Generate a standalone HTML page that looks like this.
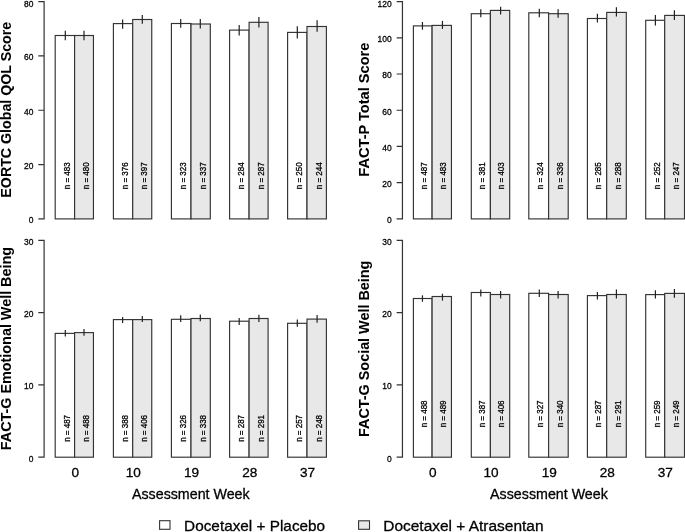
<!DOCTYPE html>
<html><head><meta charset="utf-8"><style>
html,body{margin:0;padding:0;background:#fff;}
body{width:685px;height:532px;overflow:hidden;}
#w{width:685px;height:532px;will-change:transform;}
svg{display:block;font-family:"Liberation Sans",sans-serif;}
text{fill:#000;stroke:#000;stroke-width:0.3px;}
text[font-weight=bold]{stroke-width:0.05px;}
</style></head><body>
<div id="w"><svg width="685" height="532" viewBox="0 0 685 532">
<rect x="55.2" y="35.5" width="19.4" height="183.4" fill="#fff" stroke="#333" stroke-width="1.15"/>
<rect x="74.6" y="35.5" width="18.85" height="183.4" fill="#e8e8e8" stroke="#333" stroke-width="1.15"/>
<line x1="65.3" y1="30.7" x2="65.3" y2="40.3" stroke="#222" stroke-width="1.2"/>
<line x1="84" y1="30.7" x2="84" y2="40.3" stroke="#222" stroke-width="1.2"/>
<text transform="translate(69.8 189.2) rotate(-90) scale(0.89 1)" font-size="9">n = 483</text>
<text transform="translate(88.93 189.2) rotate(-90) scale(0.89 1)" font-size="9">n = 480</text>
<rect x="113.4" y="23.6" width="19.3" height="195.3" fill="#fff" stroke="#333" stroke-width="1.15"/>
<rect x="132.7" y="19.5" width="19.05" height="199.4" fill="#e8e8e8" stroke="#333" stroke-width="1.15"/>
<line x1="122.6" y1="19.5" x2="122.6" y2="28.8" stroke="#222" stroke-width="1.2"/>
<line x1="142.3" y1="15" x2="142.3" y2="23.8" stroke="#222" stroke-width="1.2"/>
<text transform="translate(127.95 189.2) rotate(-90) scale(0.89 1)" font-size="9">n = 376</text>
<text transform="translate(147.12 189.2) rotate(-90) scale(0.89 1)" font-size="9">n = 397</text>
<rect x="171.4" y="23.5" width="19.6" height="195.4" fill="#fff" stroke="#333" stroke-width="1.15"/>
<rect x="191" y="24" width="19.3" height="194.9" fill="#e8e8e8" stroke="#333" stroke-width="1.15"/>
<line x1="180.7" y1="19.1" x2="180.7" y2="27.8" stroke="#222" stroke-width="1.2"/>
<line x1="200.3" y1="19.1" x2="200.3" y2="28.6" stroke="#222" stroke-width="1.2"/>
<text transform="translate(186.1 189.2) rotate(-90) scale(0.89 1)" font-size="9">n = 323</text>
<text transform="translate(205.55 189.2) rotate(-90) scale(0.89 1)" font-size="9">n = 337</text>
<rect x="229.6" y="30.1" width="19.5" height="188.8" fill="#fff" stroke="#333" stroke-width="1.15"/>
<rect x="249.1" y="22.3" width="19" height="196.6" fill="#e8e8e8" stroke="#333" stroke-width="1.15"/>
<line x1="239.2" y1="25.1" x2="239.2" y2="35.5" stroke="#222" stroke-width="1.2"/>
<line x1="258.9" y1="17" x2="258.9" y2="27.5" stroke="#222" stroke-width="1.2"/>
<text transform="translate(244.25 189.2) rotate(-90) scale(0.89 1)" font-size="9">n = 284</text>
<text transform="translate(263.5 189.2) rotate(-90) scale(0.89 1)" font-size="9">n = 287</text>
<rect x="287.6" y="32.4" width="19.4" height="186.5" fill="#fff" stroke="#333" stroke-width="1.15"/>
<rect x="307" y="26.5" width="19.4" height="192.4" fill="#e8e8e8" stroke="#333" stroke-width="1.15"/>
<line x1="297.3" y1="26.3" x2="297.3" y2="38.4" stroke="#222" stroke-width="1.2"/>
<line x1="317.1" y1="20.3" x2="317.1" y2="31.8" stroke="#222" stroke-width="1.2"/>
<text transform="translate(302.2 189.2) rotate(-90) scale(0.89 1)" font-size="9">n = 250</text>
<text transform="translate(321.6 189.2) rotate(-90) scale(0.89 1)" font-size="9">n = 244</text>
<text transform="translate(33.4 223.3) scale(0.89 1)" font-size="9.5" text-anchor="end">0</text>
<text transform="translate(33.4 169) scale(0.89 1)" font-size="9.5" text-anchor="end">20</text>
<text transform="translate(33.4 114.65) scale(0.89 1)" font-size="9.5" text-anchor="end">40</text>
<text transform="translate(33.4 60.3) scale(0.89 1)" font-size="9.5" text-anchor="end">60</text>
<text transform="translate(33.4 6.6) scale(0.89 1)" font-size="9.5" text-anchor="end">80</text>
<path d="M44.1 1.6V218.9M38.9 218.9H44.1M38.9 164.6H44.1M38.9 110.25H44.1M38.9 55.9H44.1M38.9 1.6H44.1" fill="none" stroke="#333" stroke-width="1.2" stroke-linecap="square"/>
<text transform="translate(10.7 109.7) rotate(-90) scale(0.995 1)" font-size="14.3" text-anchor="middle" font-weight="bold">EORTC Global QOL Score</text>
<rect x="413.4" y="25.9" width="18.7" height="193" fill="#fff" stroke="#333" stroke-width="1.15"/>
<rect x="432.1" y="25.4" width="19.35" height="193.5" fill="#e8e8e8" stroke="#333" stroke-width="1.15"/>
<line x1="422.45" y1="22" x2="422.45" y2="29.7" stroke="#222" stroke-width="1.2"/>
<line x1="442.45" y1="20.9" x2="442.45" y2="28.9" stroke="#222" stroke-width="1.2"/>
<text transform="translate(427.1 189.15) rotate(-90) scale(0.89 1)" font-size="9">n = 487</text>
<text transform="translate(446.12 189.15) rotate(-90) scale(0.89 1)" font-size="9">n = 483</text>
<rect x="471.3" y="13.7" width="19.1" height="205.2" fill="#fff" stroke="#333" stroke-width="1.15"/>
<rect x="490.4" y="10.4" width="19.3" height="208.5" fill="#e8e8e8" stroke="#333" stroke-width="1.15"/>
<line x1="480.8" y1="9.3" x2="480.8" y2="17.3" stroke="#222" stroke-width="1.2"/>
<line x1="500.6" y1="6.7" x2="500.6" y2="14.5" stroke="#222" stroke-width="1.2"/>
<text transform="translate(485.2 189.15) rotate(-90) scale(0.89 1)" font-size="9">n = 381</text>
<text transform="translate(504.4 189.15) rotate(-90) scale(0.89 1)" font-size="9">n = 403</text>
<rect x="528.8" y="12.8" width="19.8" height="206.1" fill="#fff" stroke="#333" stroke-width="1.15"/>
<rect x="548.6" y="13.7" width="19.6" height="205.2" fill="#e8e8e8" stroke="#333" stroke-width="1.15"/>
<line x1="539.3" y1="8.8" x2="539.3" y2="17.3" stroke="#222" stroke-width="1.2"/>
<line x1="558.1" y1="9.3" x2="558.1" y2="17.7" stroke="#222" stroke-width="1.2"/>
<text transform="translate(543.05 189.15) rotate(-90) scale(0.89 1)" font-size="9">n = 324</text>
<text transform="translate(562.75 189.15) rotate(-90) scale(0.89 1)" font-size="9">n = 336</text>
<rect x="587.4" y="18.5" width="19.3" height="200.4" fill="#fff" stroke="#333" stroke-width="1.15"/>
<rect x="606.7" y="12.4" width="19.6" height="206.5" fill="#e8e8e8" stroke="#333" stroke-width="1.15"/>
<line x1="597.4" y1="13.7" x2="597.4" y2="22.5" stroke="#222" stroke-width="1.2"/>
<line x1="616.4" y1="7.2" x2="616.4" y2="16.5" stroke="#222" stroke-width="1.2"/>
<text transform="translate(601.4 189.15) rotate(-90) scale(0.89 1)" font-size="9">n = 285</text>
<text transform="translate(620.85 189.15) rotate(-90) scale(0.89 1)" font-size="9">n = 288</text>
<rect x="645.7" y="20.3" width="19" height="198.6" fill="#fff" stroke="#333" stroke-width="1.15"/>
<rect x="664.7" y="15.4" width="19.8" height="203.5" fill="#e8e8e8" stroke="#333" stroke-width="1.15"/>
<line x1="655.4" y1="15.1" x2="655.4" y2="25.4" stroke="#222" stroke-width="1.2"/>
<line x1="674.4" y1="10.3" x2="674.4" y2="19.9" stroke="#222" stroke-width="1.2"/>
<text transform="translate(659.55 189.15) rotate(-90) scale(0.89 1)" font-size="9">n = 252</text>
<text transform="translate(678.95 189.15) rotate(-90) scale(0.89 1)" font-size="9">n = 247</text>
<text transform="translate(391.7 223.3) scale(0.89 1)" font-size="9.5" text-anchor="end">0</text>
<text transform="translate(391.7 187.1) scale(0.89 1)" font-size="9.5" text-anchor="end">20</text>
<text transform="translate(391.7 150.85) scale(0.89 1)" font-size="9.5" text-anchor="end">40</text>
<text transform="translate(391.7 114.65) scale(0.89 1)" font-size="9.5" text-anchor="end">60</text>
<text transform="translate(391.7 78.4) scale(0.89 1)" font-size="9.5" text-anchor="end">80</text>
<text transform="translate(391.7 42.2) scale(0.89 1)" font-size="9.5" text-anchor="end">100</text>
<text transform="translate(391.7 6.6) scale(0.89 1)" font-size="9.5" text-anchor="end">120</text>
<path d="M402.45 1.6V218.9M397.25 218.9H402.45M397.25 182.7H402.45M397.25 146.45H402.45M397.25 110.25H402.45M397.25 74H402.45M397.25 37.8H402.45M397.25 1.6H402.45" fill="none" stroke="#333" stroke-width="1.2" stroke-linecap="square"/>
<text transform="translate(368.7 109.65) rotate(-90) scale(1.021 1)" font-size="14.3" text-anchor="middle" font-weight="bold">FACT-P Total Score</text>
<rect x="55.2" y="333.4" width="19.4" height="123.8" fill="#fff" stroke="#333" stroke-width="1.15"/>
<rect x="74.6" y="332.6" width="18.85" height="124.6" fill="#e8e8e8" stroke="#333" stroke-width="1.15"/>
<line x1="65.3" y1="330" x2="65.3" y2="336.6" stroke="#222" stroke-width="1.2"/>
<line x1="84" y1="328.9" x2="84" y2="335.7" stroke="#222" stroke-width="1.2"/>
<text transform="translate(70 441.85) rotate(-90) scale(0.89 1)" font-size="9">n = 487</text>
<text transform="translate(89.12 441.85) rotate(-90) scale(0.89 1)" font-size="9">n = 488</text>
<rect x="113.4" y="319.6" width="19.3" height="137.6" fill="#fff" stroke="#333" stroke-width="1.15"/>
<rect x="132.7" y="319.6" width="19.05" height="137.6" fill="#e8e8e8" stroke="#333" stroke-width="1.15"/>
<line x1="122.6" y1="316.9" x2="122.6" y2="323" stroke="#222" stroke-width="1.2"/>
<line x1="142.3" y1="316.1" x2="142.3" y2="322" stroke="#222" stroke-width="1.2"/>
<text transform="translate(128.15 441.85) rotate(-90) scale(0.89 1)" font-size="9">n = 388</text>
<text transform="translate(147.32 441.85) rotate(-90) scale(0.89 1)" font-size="9">n = 406</text>
<rect x="171.4" y="319.3" width="19.6" height="137.9" fill="#fff" stroke="#333" stroke-width="1.15"/>
<rect x="191" y="318.5" width="19.3" height="138.7" fill="#e8e8e8" stroke="#333" stroke-width="1.15"/>
<line x1="180.7" y1="315.3" x2="180.7" y2="322" stroke="#222" stroke-width="1.2"/>
<line x1="200.3" y1="314.5" x2="200.3" y2="321.2" stroke="#222" stroke-width="1.2"/>
<text transform="translate(186.3 441.85) rotate(-90) scale(0.89 1)" font-size="9">n = 326</text>
<text transform="translate(205.75 441.85) rotate(-90) scale(0.89 1)" font-size="9">n = 338</text>
<rect x="229.6" y="321.2" width="19.5" height="136" fill="#fff" stroke="#333" stroke-width="1.15"/>
<rect x="249.1" y="318.5" width="19" height="138.7" fill="#e8e8e8" stroke="#333" stroke-width="1.15"/>
<line x1="239.2" y1="318" x2="239.2" y2="324.9" stroke="#222" stroke-width="1.2"/>
<line x1="258.9" y1="314.8" x2="258.9" y2="322" stroke="#222" stroke-width="1.2"/>
<text transform="translate(244.45 441.85) rotate(-90) scale(0.89 1)" font-size="9">n = 287</text>
<text transform="translate(263.7 441.85) rotate(-90) scale(0.89 1)" font-size="9">n = 291</text>
<rect x="287.6" y="323.3" width="19.4" height="133.9" fill="#fff" stroke="#333" stroke-width="1.15"/>
<rect x="307" y="319.1" width="19.4" height="138.1" fill="#e8e8e8" stroke="#333" stroke-width="1.15"/>
<line x1="297.3" y1="319.4" x2="297.3" y2="326.8" stroke="#222" stroke-width="1.2"/>
<line x1="317.1" y1="315.1" x2="317.1" y2="322.7" stroke="#222" stroke-width="1.2"/>
<text transform="translate(302.4 441.85) rotate(-90) scale(0.89 1)" font-size="9">n = 257</text>
<text transform="translate(321.8 441.85) rotate(-90) scale(0.89 1)" font-size="9">n = 248</text>
<text transform="translate(33.4 461.6) scale(0.89 1)" font-size="9.5" text-anchor="end">0</text>
<text transform="translate(33.4 389.35) scale(0.89 1)" font-size="9.5" text-anchor="end">10</text>
<text transform="translate(33.4 317.1) scale(0.89 1)" font-size="9.5" text-anchor="end">20</text>
<text transform="translate(33.4 244.85) scale(0.89 1)" font-size="9.5" text-anchor="end">30</text>
<path d="M44.1 240.45V457.2M38.9 457.2H44.1M38.9 384.95H44.1M38.9 312.7H44.1M38.9 240.45H44.1" fill="none" stroke="#333" stroke-width="1.2" stroke-linecap="square"/>
<text transform="translate(10.7 348.6) rotate(-90) scale(1.005 1)" font-size="14.3" text-anchor="middle" font-weight="bold">FACT-G Emotional Well Being</text>
<text transform="translate(75.2 477.2)" font-size="13.6" text-anchor="middle">0</text>
<text transform="translate(133.3 477.2)" font-size="13.6" text-anchor="middle">10</text>
<text transform="translate(191.6 477.2)" font-size="13.6" text-anchor="middle">19</text>
<text transform="translate(249.7 477.2)" font-size="13.6" text-anchor="middle">28</text>
<text transform="translate(307.6 477.2)" font-size="13.6" text-anchor="middle">37</text>
<text transform="translate(190.8 499.15) scale(0.99 1)" font-size="14.4" text-anchor="middle">Assessment Week</text>
<rect x="413.4" y="298.5" width="18.7" height="158.7" fill="#fff" stroke="#333" stroke-width="1.15"/>
<rect x="432.1" y="296.5" width="19.35" height="160.7" fill="#e8e8e8" stroke="#333" stroke-width="1.15"/>
<line x1="422.45" y1="295.3" x2="422.45" y2="301.7" stroke="#222" stroke-width="1.2"/>
<line x1="442.45" y1="293.7" x2="442.45" y2="300.6" stroke="#222" stroke-width="1.2"/>
<text transform="translate(427.1 427.35) rotate(-90) scale(0.89 1)" font-size="9">n = 488</text>
<text transform="translate(446.12 427.35) rotate(-90) scale(0.89 1)" font-size="9">n = 489</text>
<rect x="471.3" y="292.5" width="19.1" height="164.7" fill="#fff" stroke="#333" stroke-width="1.15"/>
<rect x="490.4" y="294.5" width="19.3" height="162.7" fill="#e8e8e8" stroke="#333" stroke-width="1.15"/>
<line x1="480.8" y1="289.6" x2="480.8" y2="296.4" stroke="#222" stroke-width="1.2"/>
<line x1="500.6" y1="290.9" x2="500.6" y2="298.5" stroke="#222" stroke-width="1.2"/>
<text transform="translate(485.2 427.35) rotate(-90) scale(0.89 1)" font-size="9">n = 387</text>
<text transform="translate(504.4 427.35) rotate(-90) scale(0.89 1)" font-size="9">n = 406</text>
<rect x="528.8" y="293.3" width="19.8" height="163.9" fill="#fff" stroke="#333" stroke-width="1.15"/>
<rect x="548.6" y="294.5" width="19.6" height="162.7" fill="#e8e8e8" stroke="#333" stroke-width="1.15"/>
<line x1="539.3" y1="289.6" x2="539.3" y2="296.9" stroke="#222" stroke-width="1.2"/>
<line x1="558.1" y1="290.9" x2="558.1" y2="298.5" stroke="#222" stroke-width="1.2"/>
<text transform="translate(543.05 427.35) rotate(-90) scale(0.89 1)" font-size="9">n = 327</text>
<text transform="translate(562.75 427.35) rotate(-90) scale(0.89 1)" font-size="9">n = 340</text>
<rect x="587.4" y="295.6" width="19.3" height="161.6" fill="#fff" stroke="#333" stroke-width="1.15"/>
<rect x="606.7" y="294.5" width="19.6" height="162.7" fill="#e8e8e8" stroke="#333" stroke-width="1.15"/>
<line x1="597.4" y1="292" x2="597.4" y2="299.6" stroke="#222" stroke-width="1.2"/>
<line x1="616.4" y1="289.6" x2="616.4" y2="298.5" stroke="#222" stroke-width="1.2"/>
<text transform="translate(601.4 427.35) rotate(-90) scale(0.89 1)" font-size="9">n = 287</text>
<text transform="translate(620.85 427.35) rotate(-90) scale(0.89 1)" font-size="9">n = 291</text>
<rect x="645.7" y="294.6" width="19" height="162.6" fill="#fff" stroke="#333" stroke-width="1.15"/>
<rect x="664.7" y="293.4" width="19.8" height="163.8" fill="#e8e8e8" stroke="#333" stroke-width="1.15"/>
<line x1="655.4" y1="290.3" x2="655.4" y2="298.4" stroke="#222" stroke-width="1.2"/>
<line x1="674.4" y1="288.9" x2="674.4" y2="297.8" stroke="#222" stroke-width="1.2"/>
<text transform="translate(659.55 427.35) rotate(-90) scale(0.89 1)" font-size="9">n = 259</text>
<text transform="translate(678.95 427.35) rotate(-90) scale(0.89 1)" font-size="9">n = 249</text>
<text transform="translate(391.7 461.6) scale(0.89 1)" font-size="9.5" text-anchor="end">0</text>
<text transform="translate(391.7 389.35) scale(0.89 1)" font-size="9.5" text-anchor="end">10</text>
<text transform="translate(391.7 317.1) scale(0.89 1)" font-size="9.5" text-anchor="end">20</text>
<text transform="translate(391.7 244.85) scale(0.89 1)" font-size="9.5" text-anchor="end">30</text>
<path d="M402.45 240.45V457.2M397.25 457.2H402.45M397.25 384.95H402.45M397.25 312.7H402.45M397.25 240.45H402.45" fill="none" stroke="#333" stroke-width="1.2" stroke-linecap="square"/>
<text transform="translate(368.7 348.8) rotate(-90) scale(1.006 1)" font-size="14.3" text-anchor="middle" font-weight="bold">FACT-G Social Well Being</text>
<text transform="translate(432.7 477.2)" font-size="13.6" text-anchor="middle">0</text>
<text transform="translate(491 477.2)" font-size="13.6" text-anchor="middle">10</text>
<text transform="translate(549.2 477.2)" font-size="13.6" text-anchor="middle">19</text>
<text transform="translate(607.3 477.2)" font-size="13.6" text-anchor="middle">28</text>
<text transform="translate(665.3 477.2)" font-size="13.6" text-anchor="middle">37</text>
<text transform="translate(548.95 499.15) scale(0.99 1)" font-size="14.4" text-anchor="middle">Assessment Week</text>
<rect x="159.6" y="520.7" width="10.4" height="8.6" fill="#fff" stroke="#333" stroke-width="1.1"/>
<text transform="translate(184.1 531.4) scale(0.996 1)" font-size="15.4">Docetaxel + Placebo</text>
<rect x="358.6" y="520.8" width="10.9" height="8.5" fill="#e8e8e8" stroke="#333" stroke-width="1.1"/>
<text transform="translate(383.3 531.4) scale(1.004 1)" font-size="15.4">Docetaxel + Atrasentan</text>
</svg></div>
</body></html>
